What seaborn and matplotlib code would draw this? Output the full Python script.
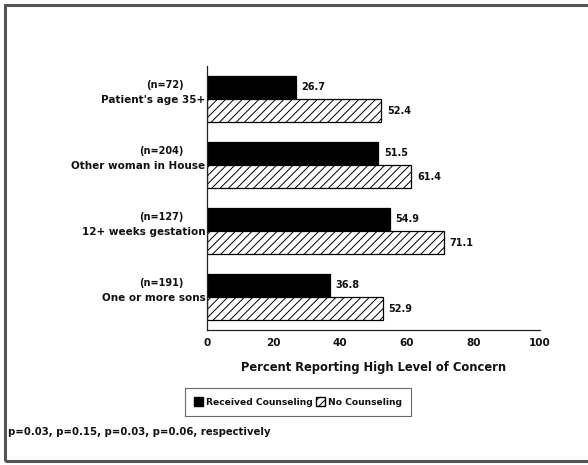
import matplotlib
matplotlib.use("Agg")
import matplotlib.pyplot as plt
from matplotlib.patches import Patch, Rectangle
import matplotlib.transforms as mtransforms
import seaborn as sns
import pandas as pd

# data
factors = ["Patient's age 35+", "Other woman in House", "12+ weeks gestation", "One or more sons"]
n_labels = ["(n=72)", "(n=204)", "(n=127)", "(n=191)"]
received = [26.7, 51.5, 54.9, 36.8]
no_counsel = [52.4, 61.4, 71.1, 52.9]
groups = ["Received Counseling", "No Counseling"]
footnote = "p=0.03, p=0.15, p=0.03, p=0.06, respectively"

df = pd.DataFrame({
    "factor": factors * 2,
    "group": [groups[0]] * 4 + [groups[1]] * 4,
    "pct": received + no_counsel,
})

sns.set_style("white")
plt.rcParams["font.family"] = ["DejaVu Sans"]
plt.rcParams["font.weight"] = "bold"
plt.rcParams["text.color"] = "#111111"
plt.rcParams["xtick.color"] = "#111111"
plt.rcParams["ytick.color"] = "#111111"
plt.rcParams["axes.labelcolor"] = "#111111"
plt.rcParams["hatch.linewidth"] = 0.7

fig = plt.figure(figsize=(5.88, 4.65), dpi=100)
ax = fig.add_axes([207 / 588, 1 - 330 / 465, 333 / 588, 264 / 465])

sns.barplot(data=df, y="factor", x="pct", hue="group", hue_order=groups,
            palette=["black", "white"], orient="h", width=0.7,
            edgecolor="black", linewidth=0.9, legend=False, ax=ax)

for p in ax.containers[1]:
    p.set_hatch("////")

for cont in ax.containers:
    ax.bar_label(cont, fmt="%.1f", padding=4, fontsize=7, fontweight="bold")

ax.set_xlim(0, 100)
ax.set_ylim(3.5, -0.5)
ax.set_xticks([0, 20, 40, 60, 80, 100])
ax.tick_params(axis="both", length=0, labelsize=7.5, pad=6)
ax.tick_params(axis="y", pad=1)
ax.set_ylabel("")
ax.set_xlabel("Percent Reporting High Level of Concern", fontsize=8.3,
              fontweight="bold", labelpad=9)
for s in ["top", "right"]:
    ax.spines[s].set_visible(False)
for s in ["left", "bottom"]:
    ax.spines[s].set_color("#222222")
    ax.spines[s].set_linewidth(0.9)

# sample sizes above each label
trans = mtransforms.blended_transform_factory(ax.transAxes, ax.transData)
for i, t in enumerate(n_labels):
    ax.text(-23 / 333, i - 0.21, t, transform=trans, ha="right", va="center",
            fontsize=7, fontweight="bold")

handles = [Patch(facecolor="black", edgecolor="black"),
           Patch(facecolor="white", edgecolor="black", hatch="////")]
leg = fig.legend(handles, groups, loc="center", bbox_to_anchor=(298 / 588, 1 - 402 / 465),
                 ncol=2, prop={"size": 6.6, "weight": "bold"}, frameon=True, fancybox=False,
                 edgecolor="#444444", handlelength=1.0, handleheight=1.0,
                 handletextpad=0.3, columnspacing=0.4, borderpad=1.0)
leg.get_frame().set_linewidth(0.8)

fig.text(8 / 588, 1 - 432 / 465, footnote, fontsize=7.3, fontweight="bold",
         va="center", ha="left")

# scanned page frame
fig.patches.append(Rectangle((5 / 588, 4 / 465), 1.2, 1 - 9 / 465, transform=fig.transFigure,
                             fill=False, edgecolor="#555555", linewidth=2.2))

fig.savefig("out.png", dpi=100, facecolor="white")
